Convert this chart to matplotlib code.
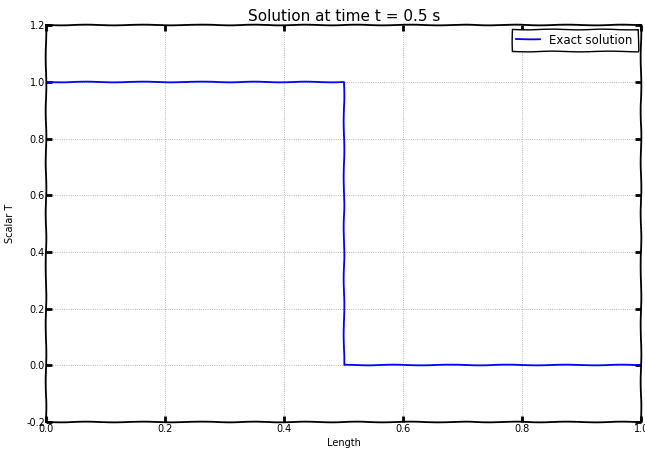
import numpy as np
import matplotlib
matplotlib.use("Agg")
import matplotlib.pyplot as plt

# Exact solution of the advected step at t = 0.5 s
length = [0.0, 0.5, 0.5, 1.0]
scalar_t = [1.0, 1.0, 0.0, 0.0]
x_ticks = [0.0, 0.2, 0.4, 0.6, 0.8, 1.0]
y_ticks = [-0.2, 0.0, 0.2, 0.4, 0.6, 0.8, 1.0, 1.2]

plt.xkcd(scale=0.35, length=60, randomness=2)
plt.rcParams['font.family'] = ['DejaVu Sans']
plt.rcParams['path.effects'] = []

fig = plt.figure(figsize=(6.45, 4.51), dpi=100)
ax = fig.add_axes([0.072, 0.064, 0.922, 0.88])

ax.plot(length, scalar_t, color='b', lw=1.3, label='Exact solution')
ax.set_xlim(0.0, 1.0)
ax.set_ylim(-0.2, 1.2)
ax.set_xticks(x_ticks)
ax.set_yticks(y_ticks)
ax.set_xticklabels(['%.1f' % v for v in x_ticks])
ax.set_yticklabels(['%.1f' % v for v in y_ticks])
ax.tick_params(direction='in', length=4, width=2, labelsize=7, pad=1,
               top=True, right=True)
ax.grid(True, color='#a0a0a0', linestyle=':', linewidth=0.6)
for gl in ax.get_xgridlines() + ax.get_ygridlines():
    gl.set_sketch_params(None)
for s in ax.spines.values():
    s.set_linewidth(1.3)

ax.set_title('Solution at time t = 0.5 s', fontsize=11, pad=3)
ax.set_xlabel('Length', fontsize=7, labelpad=3)
ax.set_ylabel('Scalar T', fontsize=7, labelpad=8)
leg = ax.legend(loc='upper right', fontsize=8.5, fancybox=False, framealpha=1,
                borderaxespad=0.3)
leg.get_frame().set_edgecolor('black')
leg.get_frame().set_linewidth(1.0)

fig.savefig('out.png', dpi=100)
